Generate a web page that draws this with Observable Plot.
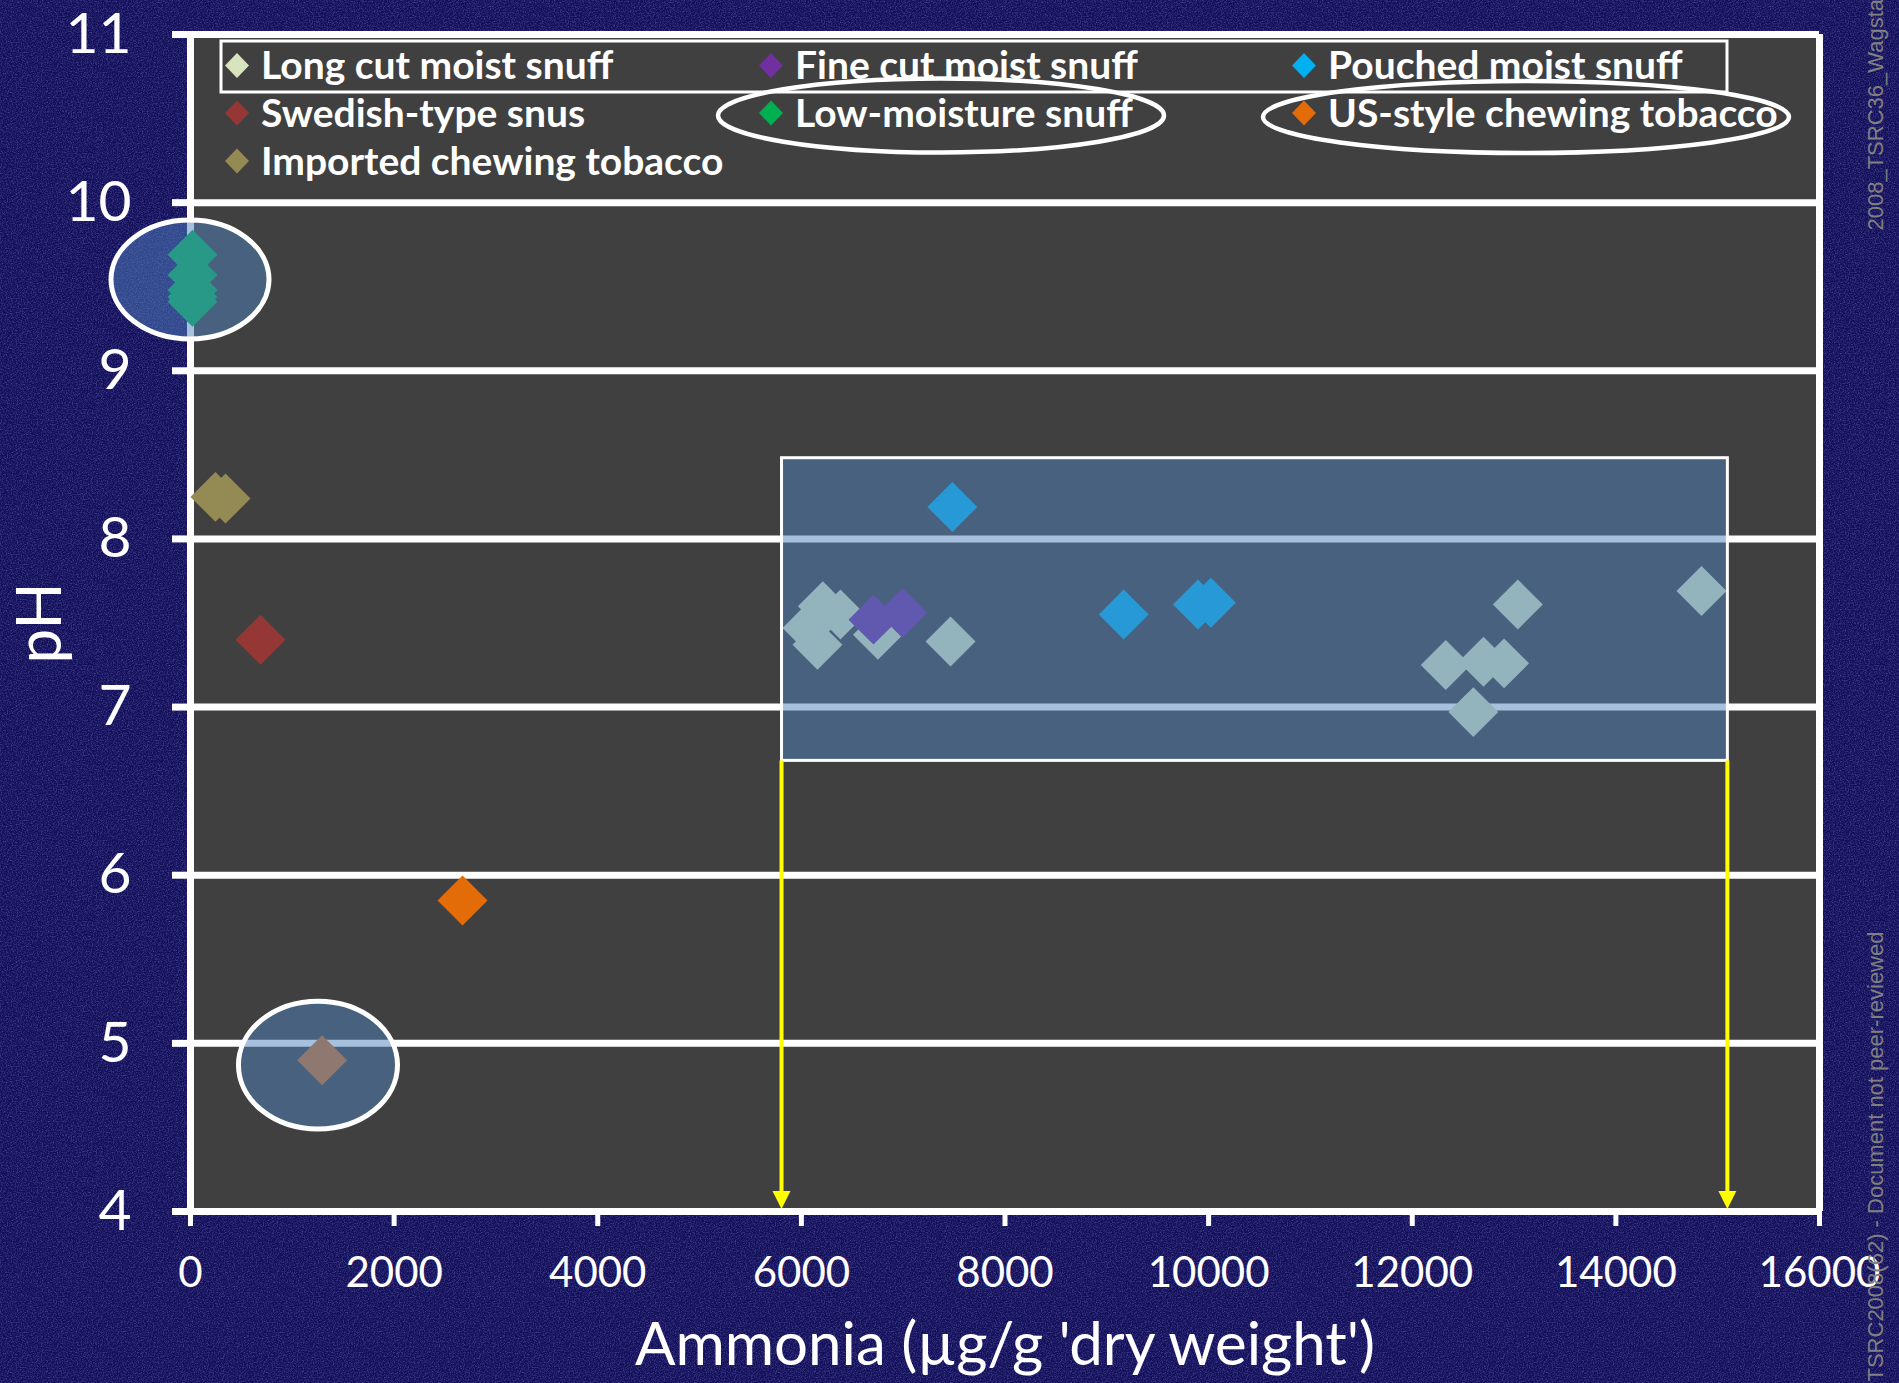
<!DOCTYPE html>
<html>
<head>
<meta charset="utf-8">
<script src="https://cdn.jsdelivr.net/npm/d3@7"></script>
<script src="https://cdn.jsdelivr.net/npm/@observablehq/plot@0.6"></script>
<style>
html, body { margin: 0; padding: 0; width: 1899px; height: 1383px; overflow: hidden; }
body {
  background-color: #121058;
  background-image: url("data:image/svg+xml,%3Csvg xmlns='http://www.w3.org/2000/svg' width='256' height='256'%3E%3Cfilter id='n'%3E%3CfeTurbulence type='fractalNoise' baseFrequency='0.8' numOctaves='3' stitchTiles='stitch'/%3E%3CfeColorMatrix values='0 0 0 0 0.2 0 0 0 0 0.16 0 0 0 0 0.6 1.1 0 0 0 -0.45'/%3E%3C/filter%3E%3Crect width='100%25' height='100%25' filter='url(%23n)'/%3E%3C/svg%3E");
}
#chart svg { display: block; }
</style>
</head>
<body>
<div id="chart"></div>
<script>
// ---------- data ----------
const categories = [
  "Long cut moist snuff", "Fine cut moist snuff", "Pouched moist snuff",
  "Swedish-type snus", "Low-moisture snuff", "US-style chewing tobacco",
  "Imported chewing tobacco"
];
const seriesColors = ["#D7E4BD", "#7030A0", "#00B0F0", "#953735", "#00B050", "#E36C09", "#948A54"];

const longCutAmmonia = [6211, 6384, 6060, 6158, 6752, 7465, 12329, 12700, 12902, 12600, 13037, 14841];
const longCutPH      = [7.60, 7.55, 7.47, 7.37, 7.43, 7.39, 7.25, 7.27, 7.26, 6.97, 7.61, 7.69];
const fineCutAmmonia = [6708, 6993];
const fineCutPH      = [7.52, 7.56];
const pouchedAmmonia = [7483, 9166, 9895, 10022];
const pouchedPH      = [8.19, 7.55, 7.61, 7.62];
const snusAmmonia    = [687];
const snusPH         = [7.40];
const lowMoistureAmmonia = [20, 20, 20, 20, 20];
const lowMoisturePH      = [9.69, 9.57, 9.48, 9.44, 9.41];
const usChewingAmmonia = [2672];
const usChewingPH      = [5.85];
const importedAmmonia  = [245, 344];
const importedPH       = [8.25, 8.24];
// point shown without a legend entry
const unlabeledAmmonia = [1293];
const unlabeledPH      = [4.90];
const unlabeledColor   = "#8E7870";

const xTicks = [0, 2000, 4000, 6000, 8000, 10000, 12000, 14000, 16000];
const yTicks = [4, 5, 6, 7, 8, 9, 10, 11];
const xTitle = "Ammonia (µg/g 'dry weight')";
const yTitle = "pH";
const watermarkTop = "2008_TSRC36_Wagstaff";
const watermarkBottom = "TSRC2008(62) - Document not peer-reviewed";

// annotations (in data units)
const highlightBox = [{x1: 5810, x2: 15100, y1: 6.68, y2: 8.48}];
const circledGroups = [
  {cx: 0, cy: 9.54, rx: 776, ry: 0.354},
  {cx: 1257, cy: 4.868, rx: 781, ry: 0.380}
];
const rangeArrowX = [5810, 15100];
const rangeArrowFrom = 6.68;
const rangeArrowTo = 4;

// ---------- build table ----------
const seriesX = [longCutAmmonia, fineCutAmmonia, pouchedAmmonia, snusAmmonia, lowMoistureAmmonia, usChewingAmmonia, importedAmmonia];
const seriesY = [longCutPH, fineCutPH, pouchedPH, snusPH, lowMoisturePH, usChewingPH, importedPH];
const points = [];
categories.forEach((c, i) => {
  seriesX[i].forEach((x, j) => points.push({category: c, ammonia: x, pH: seriesY[i][j], color: seriesColors[i]}));
});
const unlabeled = unlabeledAmmonia.map((x, j) => ({ammonia: x, pH: unlabeledPH[j], color: unlabeledColor}));

// ---------- layout (pixels, relative to frame) ----------
const legendColumnX = [47, 581, 1114];
const legendRowY = [31.5, 79, 127];
const overlayFill = "#4F81BD";

function ellipsesMark(items) {
  return (index, scales) => {
    const g = d3.create("svg:g");
    for (const e of items) {
      const cx = scales.x(e.cx), cy = scales.y(e.cy);
      const rx = Math.abs(scales.x(e.cx + e.rx) - cx);
      const ry = Math.abs(scales.y(e.cy + e.ry) - cy);
      g.append("ellipse").attr("cx", cx).attr("cy", cy).attr("rx", rx).attr("ry", ry)
        .attr("fill", overlayFill).attr("fill-opacity", 0.5)
        .attr("stroke", "white").attr("stroke-width", 5);
    }
    return g.node();
  };
}

function arrowsMark(xs, yFrom, yTo) {
  return (index, scales) => {
    const g = d3.create("svg:g");
    for (const xv of xs) {
      const x = scales.x(xv), y0 = scales.y(yFrom), tip = scales.y(yTo) - 2;
      g.append("line").attr("x1", x).attr("x2", x).attr("y1", y0).attr("y2", tip - 16)
        .attr("stroke", "#FFFF00").attr("stroke-width", 4);
      g.append("polygon").attr("points", `${x - 9},${tip - 18} ${x + 9},${tip - 18} ${x},${tip}`)
        .attr("fill", "#FFFF00");
    }
    return g.node();
  };
}

function legendMark() {
  return (index, scales, values, dims) => {
    const ox = dims.marginLeft, oy = dims.marginTop;
    const g = d3.create("svg:g")
      .attr("font-family", "Lato, sans-serif").attr("font-weight", "bold")
      .attr("font-size", 39).attr("text-anchor", "start");
    categories.forEach((c, i) => {
      const mx = ox + legendColumnX[i % 3], my = oy + legendRowY[Math.floor(i / 3)];
      g.append("polygon").attr("points", `${mx},${my - 12.5} ${mx + 12},${my} ${mx},${my + 12.5} ${mx - 12},${my}`)
        .attr("fill", seriesColors[i]);
      g.append("text").attr("x", mx + 24).attr("y", my + 13.5).attr("fill", "white").text(c);
    });
    g.append("rect").attr("x", ox + 31).attr("y", oy + 7).attr("width", 1506).attr("height", 51)
      .attr("fill", "none").attr("stroke", "white").attr("stroke-width", 3);
    g.append("ellipse").attr("cx", ox + 751).attr("cy", oy + 81.5).attr("rx", 223).attr("ry", 37)
      .attr("fill", "none").attr("stroke", "white").attr("stroke-width", 4.5);
    g.append("ellipse").attr("cx", ox + 1336).attr("cy", oy + 83).attr("rx", 263).attr("ry", 36)
      .attr("fill", "none").attr("stroke", "white").attr("stroke-width", 4.5);
    return g.node();
  };
}

const chart = Plot.plot({
  width: 1899,
  height: 1383,
  marginLeft: 190,
  marginRight: 80,
  marginTop: 34,
  marginBottom: 172,
  x: {domain: [0, 16000]},
  y: {domain: [4, 11]},
  color: {type: "identity"},
  style: {background: "transparent", color: "white", fontFamily: "Lato, sans-serif", overflow: "visible"},
  marks: [
    Plot.frame({fill: "#404040", stroke: "none"}),
    Plot.ruleY(yTicks, {stroke: "white", strokeWidth: 7}),
    Plot.ruleX([0, 16000], {stroke: "white", strokeWidth: 7}),
    Plot.axisY({ticks: yTicks, tickSize: 18, tickPadding: 41, fontSize: 57, strokeWidth: 7, label: null, tickFormat: d => String(d)}),
    Plot.axisX({ticks: xTicks, tickSize: 15, tickPadding: 31, fontSize: 42, strokeWidth: 5, label: null, tickFormat: d => String(d)}),
    Plot.dot(points, {x: "ammonia", y: "pH", fill: "color", symbol: "diamond2", r: 22.5, stroke: "none"}),
    Plot.rect(highlightBox, {x1: "x1", x2: "x2", y1: "y1", y2: "y2", fill: overlayFill, fillOpacity: 0.5, stroke: "white", strokeWidth: 3}),
    ellipsesMark(circledGroups),
    Plot.dot(unlabeled, {x: "ammonia", y: "pH", fill: "color", symbol: "diamond2", r: 22.5, stroke: "none"}),
    arrowsMark(rangeArrowX, rangeArrowFrom, rangeArrowTo),
    legendMark(),
    Plot.text([xTitle], {frameAnchor: "bottom", dy: 134, fontSize: 60, fill: "white", textAnchor: "middle", lineAnchor: "middle"}),
    Plot.text([yTitle], {frameAnchor: "left", dx: -149, rotate: -90, fontSize: 62, fill: "white", textAnchor: "middle", lineAnchor: "middle"}),
    Plot.text([watermarkTop], {frameAnchor: "top-right", dx: 56, dy: 196, rotate: -90, textAnchor: "start", lineAnchor: "middle", fontSize: 22, fontFamily: "Liberation Sans, Arial, sans-serif", fill: "#808080"}),
    Plot.text([watermarkBottom], {frameAnchor: "bottom-right", dx: 56, dy: 170, rotate: -90, textAnchor: "start", lineAnchor: "middle", fontSize: 22, fontFamily: "Liberation Sans, Arial, sans-serif", fill: "#808080"})
  ]
});
document.getElementById("chart").appendChild(chart);
</script>
</body>
</html>
